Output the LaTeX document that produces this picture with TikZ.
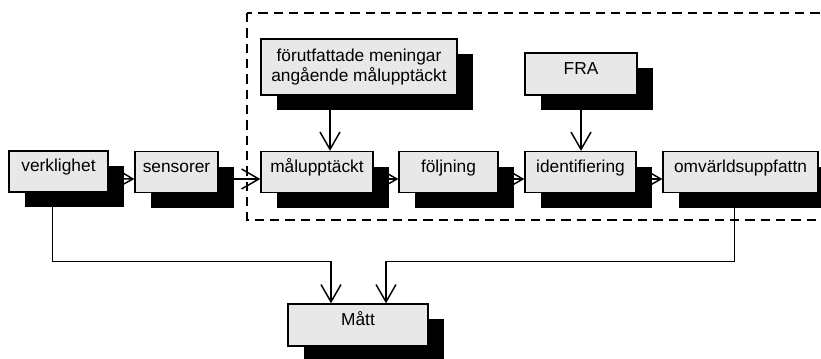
\documentclass[tikz,border=0pt]{standalone}
\usepackage{fontspec}
\setmainfont{Liberation Sans}
\usetikzlibrary{calc,shadows,arrows.meta}

\tikzset{
  boks/.style={draw=black, line width=1pt, fill=black!9, inner sep=0pt,
    minimum height=30.75pt, text height=6pt, text depth=6pt,
    font=\fontsize{13pt}{14.5pt}\selectfont,
    drop shadow={shadow xshift=12pt, shadow yshift=-11.25pt, fill=black, opacity=1}},
  pil/.style={-{Straight Barb[length=13pt,width=15pt]}, line width=1.1pt},
  ram/.style={line width=1.2pt, dash pattern=on 7pt off 4.5pt},
}

\begin{document}
\begin{tikzpicture}[x=0.75pt, y=-0.75pt]
\useasboundingbox (0,0) rectangle (821,358);
\clip (0,0) rectangle (821,358);

\draw[ram] (247,13) rectangle (840,220);

\node[boks, minimum width=74.25pt] (verk) at (58.5,171.5) {verklighet};
\node[boks, minimum width=62.25pt] (sens) at (176.5,172) {sensorer};
\node[boks, minimum width=84pt] (malupp) at (317,172) {målupptäckt};
\node[boks, minimum width=74.25pt] (folj) at (448.5,172) {följning};
\node[boks, minimum width=83.25pt] (ident) at (580.5,172) {identifiering};
\node[boks, minimum width=116.25pt] (omvarld) at (740.5,172) {omvärldsuppfattn};
\node[boks, minimum width=147pt, minimum height=42pt, text height={}, text depth={}, align=center] (forut) at (359,67) {förutfattade meningar\\angående målupptäckt};
\node[boks, minimum width=84pt, minimum height=31.5pt] (fra) at (581,74) {FRA};
\node[boks, minimum width=105pt, minimum height=31.5pt] (matt) at (358,325) {Mått};

\foreach \a/\b in {verk/sens, sens/malupp, malupp/folj, folj/ident, ident/omvarld}
    \draw[pil] ($(\a.east)+(0,7)$) -- ($(\b.west)+(0,7)$);

\coordinate (inA) at ($(malupp.north)+(13,0)$);
\draw[pil] (forut.south -| inA) -- (inA);
\draw[pil] (fra.south) -- (fra.south |- ident.north);
%
\draw[pil] ($(verk.south)+(-6,0)$) |- ($(matt.north)+(-27,-42)$) -- ($(matt.north)+(-27,0)$);
\draw[pil] ($(omvarld.south)+(-6,0)$) |- ($(matt.north)+(28,-42)$) -- ($(matt.north)+(28,0)$);
\end{tikzpicture}
\end{document}
